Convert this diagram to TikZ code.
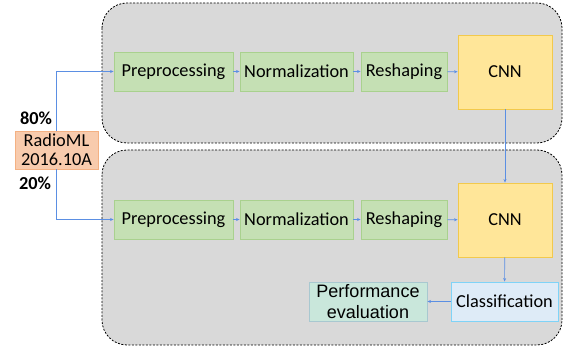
\documentclass[tikz,border=0pt]{standalone}
\usepackage{fontspec}
\setmainfont{Carlito}
\newfontfamily\arialfont{Liberation Sans}
\usetikzlibrary{arrows.meta}
\definecolor{panelfill}{HTML}{D9D9D9}
\definecolor{greenfill}{HTML}{C5E0B4}
\definecolor{greendraw}{HTML}{A9D18E}
\definecolor{cnnfill}{HTML}{FFE699}
\definecolor{cnndraw}{HTML}{F2C94C}
\definecolor{radiofill}{HTML}{F8CBAD}
\definecolor{radiodraw}{HTML}{F4B183}
\definecolor{classfill}{HTML}{DEEBF7}
\definecolor{classdraw}{HTML}{7FD3F7}
\definecolor{perffill}{HTML}{C9E7DB}
\definecolor{perfdraw}{HTML}{A8C8D0}
\definecolor{arrowblue}{HTML}{5B8FE3}
\tikzset{
  panel/.style={fill=panelfill, draw=black, line width=0.8pt, dash pattern=on 2pt off 1.5pt, rounded corners=25pt},
  stepbox/.style={fill=greenfill, draw=greendraw, line width=0.9pt, inner sep=0pt, minimum height=39pt, font=\fontsize{18.3}{20}\selectfont},
  cnnbox/.style={fill=cnnfill, draw=cnndraw, line width=0.9pt, inner sep=0pt, minimum width=94pt, minimum height=74pt, font=\fontsize{18.3}{20}\selectfont},
  radiobox/.style={fill=radiofill, draw=radiodraw, line width=0.9pt, inner sep=0pt, minimum width=83pt, minimum height=38pt, align=center, font=\fontsize{18.3}{19}\selectfont},
  classbox/.style={fill=classfill, draw=classdraw, line width=0.9pt, inner sep=0pt, minimum width=107pt, minimum height=39pt, font=\fontsize{18.3}{20}\selectfont},
  perfbox/.style={fill=perffill, draw=perfdraw, line width=0.9pt, inner sep=0pt, minimum width=118pt, minimum height=39pt, align=center, font=\arialfont\fontsize{18}{21}\selectfont},
  pct/.style={font=\bfseries\fontsize{18.3}{20}\selectfont, inner sep=0pt},
  arr/.style={draw=arrowblue, line width=0.6pt, -{Stealth[length=3.5pt,width=3pt]}}
}
\begin{document}
\begin{tikzpicture}[x=1pt,y=-1pt]
\useasboundingbox (0,0) rectangle (563,347);
\draw[panel] (102,3) rectangle (562,143);
\draw[panel] (102,150) rectangle (562,345);

\node[radiobox] (radio) at (56.5,150) {RadioML\\2016.10A};
\node[pct] (p80) at (36,118) {80\%};
\node[pct] (p20) at (35,183) {20\%};

\node[stepbox, minimum width=119pt] (pre1) at (173.5,71.5) {Preprocessing};
\node[stepbox, minimum width=113pt] (nor1) at (296.5,71.5) {Normalization};
\node[stepbox, minimum width=86pt] (res1) at (404,71.5) {Reshaping};
\node[cnnbox] (cnn1) at (505,72) {CNN};

\node[stepbox, minimum width=119pt] (pre2) at (173.5,219.5) {Preprocessing};
\node[stepbox, minimum width=113pt] (nor2) at (296.5,219.5) {Normalization};
\node[stepbox, minimum width=86pt] (res2) at (404,219.5) {Reshaping};
\node[cnnbox] (cnn2) at (505,220) {CNN};

\node[classbox] (cls) at (504.5,301.5) {Classification};
\node[perfbox] (perf) at (368,301.5) {Performance\\evaluation};

\draw[arr] (radio.north) |- (pre1.west);
\draw[arr] (radio.south) |- (pre2.west);
\draw[arr] (pre1) -- (nor1);
\draw[arr] (nor1) -- (res1);
\draw[arr] (res1) -- (cnn1);
\draw[arr] (pre2) -- (nor2);
\draw[arr] (nor2) -- (res2);
\draw[arr] (res2) -- (cnn2);
\draw[arr] (cnn1) -- (cnn2);
\draw[arr] (cnn2) -- (cls);
\draw[arr] (cls) -- (perf);
\end{tikzpicture}
\end{document}
